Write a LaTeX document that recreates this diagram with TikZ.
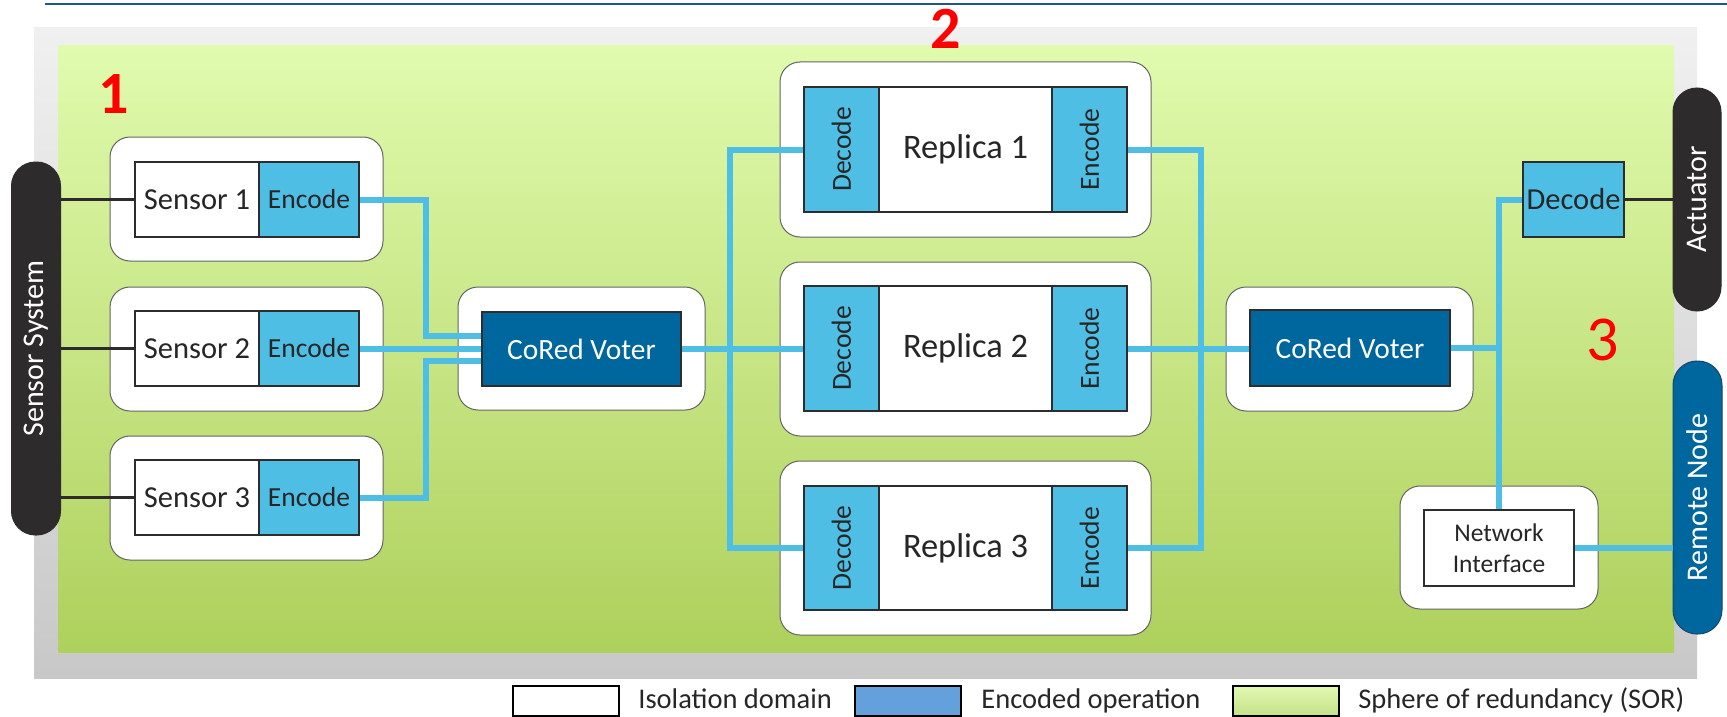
\documentclass[tikz,border=0pt]{standalone}
\usepackage{fontspec}
\setmainfont{Carlito}
\usepackage{graphicx}
\usetikzlibrary{calc}

\definecolor{ruleblue}{RGB}{31,87,140}
\definecolor{frametop}{RGB}{240,240,240}
\definecolor{framebot}{RGB}{200,200,200}
\definecolor{sortop}{RGB}{224,251,174}
\definecolor{sorbot}{RGB}{174,208,92}
\definecolor{encblue}{RGB}{78,190,228}
\definecolor{votblue}{RGB}{0,102,158}
\definecolor{remline}{RGB}{20,70,110}
\definecolor{pilldark}{RGB}{45,43,44}
\definecolor{boxline}{RGB}{45,45,45}
\definecolor{isoline}{RGB}{100,100,100}
\definecolor{txtdark}{RGB}{38,38,38}
\definecolor{legblue}{RGB}{100,160,220}
\definecolor{legtop}{RGB}{226,248,180}
\definecolor{legbot}{RGB}{196,226,134}

\tikzset{every picture/.style={line width=0.75pt}}
\tikzset{
  isobox/.style={draw=isoline, line width=1pt, fill=white, rounded corners=20pt, inner sep=0pt},
  opbox/.style={draw=boxline, line width=2.2pt, fill=white, text=txtdark, inner sep=0pt, font=\fontsize{30.5}{36}\selectfont},
  codebox/.style={opbox, fill=encblue, font=\fontsize{27.6}{32}\selectfont},
  voterbox/.style={opbox, fill=votblue, text=white, font=\fontsize{29.4}{34}\selectfont},
  pill/.style={draw=pilldark, line width=1pt, fill=pilldark, text=white, rounded corners=24pt, inner sep=0pt, rotate=90, font=\fontsize{30}{36}\selectfont},
  wire/.style={draw=encblue, line width=6pt},
  link/.style={draw=pilldark, line width=3pt},
  numlbl/.style={text=red, inner sep=0pt, font=\fontsize{60}{60}\selectfont\bfseries},
  legbox/.style={draw=black, line width=2pt, minimum width=106pt, minimum height=30pt, inner sep=0pt},
  legtxt/.style={text=txtdark, inner sep=0pt, anchor=base west, font=\fontsize{28.5}{34}\selectfont},
}

\begin{document}
\begin{tikzpicture}[x=1pt,y=1pt,yscale=-1,xscale=1]
\useasboundingbox (0,0) rectangle (1727,717);

%Straight Lines
\draw [color=ruleblue, line width=2pt] (45,4.5) -- (1727,4.5);
%Shape: Rectangle
\shade [top color=frametop, bottom color=framebot] (34,28) rectangle (1697,678);
%Shape: Rectangle
\shade [top color=sortop, bottom color=sorbot] (58.5,46) rectangle (1674,652);

% Text Node
\node [numlbl] (num1) at (114,94) {1};
% Text Node
\node [numlbl] (num2) at (946,29) {2};
% Text Node
\node [numlbl, font=\fontsize{64}{64}\selectfont] (num3) at (1603,340) {3};

%Shape: Pills
\node [pill, minimum width=373pt, minimum height=49pt] (sensys) at (36,348.5) {Sensor System};
\node [pill, minimum width=223pt, minimum height=48pt] (act) at (1697,199.5) {Actuator};
\node [pill, draw=remline, fill=votblue, minimum width=273pt, minimum height=49pt] (rem) at (1697.5,497.5) {Remote Node};

%Shape: Isolation domains
\node [isobox, minimum width=273pt, minimum height=124pt] (iso1) at (246.5,199) {};
\node [isobox, minimum width=273pt, minimum height=124pt] (iso2) at (246.5,349) {};
\node [isobox, minimum width=273pt, minimum height=124pt] (iso3) at (246.5,498) {};
\node [isobox, minimum width=247pt, minimum height=123pt] (iso4) at (581.5,348.5) {};
\node [isobox, minimum width=371pt, minimum height=175pt] (iso5) at (965.5,149.5) {};
\node [isobox, minimum width=371pt, minimum height=174pt] (iso6) at (965.5,349) {};
\node [isobox, minimum width=371pt, minimum height=174pt] (iso7) at (965.5,548) {};
\node [isobox, minimum width=247pt, minimum height=124pt] (iso8) at (1349.5,349) {};
\node [isobox, minimum width=198pt, minimum height=123pt] (iso9) at (1499,547.5) {};

%Shape: Sensors
\node [opbox, minimum width=124pt, minimum height=75pt] (sen1) at (197,199.5) {Sensor 1};
\node [codebox, minimum width=100pt, minimum height=75pt] (enc1) at (309,199.5) {Encode};
\node [opbox, minimum width=124pt, minimum height=75pt] (sen2) at (197,348.5) {Sensor 2};
\node [codebox, minimum width=100pt, minimum height=75pt] (enc2) at (309,348.5) {Encode};
\node [opbox, minimum width=124pt, minimum height=75pt] (sen3) at (197,497.5) {Sensor 3};
\node [codebox, minimum width=100pt, minimum height=75pt] (enc3) at (309,497.5) {Encode};

%Shape: Voters
\node [voterbox, minimum width=199pt, minimum height=74pt] (vot1) at (581.5,349) {CoRed Voter};
\node [voterbox, minimum width=200pt, minimum height=76pt] (vot2) at (1350,348) {CoRed Voter};

%Shape: Replicas
\node [codebox, minimum width=75pt, minimum height=125pt] (dl1) at (841.5,149.5) {\rotatebox{90}{Decode}};
\node [opbox, minimum width=173pt, minimum height=125pt, font=\fontsize{34.4}{40}\selectfont] (rep1) at (965.5,149.5) {Replica 1};
\node [codebox, minimum width=75pt, minimum height=125pt] (el1) at (1089.5,149.5) {\rotatebox{90}{Encode}};
\node [codebox, minimum width=75pt, minimum height=125pt] (dl2) at (841.5,348.5) {\rotatebox{90}{Decode}};
\node [opbox, minimum width=173pt, minimum height=125pt, font=\fontsize{34.4}{40}\selectfont] (rep2) at (965.5,348.5) {Replica 2};
\node [codebox, minimum width=75pt, minimum height=125pt] (el2) at (1089.5,348.5) {\rotatebox{90}{Encode}};
\node [codebox, minimum width=75pt, minimum height=124pt] (dl3) at (841.5,548) {\rotatebox{90}{Decode}};
\node [opbox, minimum width=173pt, minimum height=124pt, font=\fontsize{34.4}{40}\selectfont] (rep3) at (965.5,548) {Replica 3};
\node [codebox, minimum width=75pt, minimum height=124pt] (el3) at (1089.5,548) {\rotatebox{90}{Encode}};

%Shape: Output side
\node [codebox, minimum width=101pt, minimum height=75pt, font=\fontsize{30.5}{36}\selectfont] (dec4) at (1573.5,199.5) {Decode};
\node [opbox, minimum width=150pt, minimum height=76pt, align=center, font=\fontsize{25.5}{31}\selectfont] (ni) at (1499,548) {Network\\Interface};

%Straight Lines
\coordinate (busA) at (426,349);
\coordinate (busB) at (730,349);
\coordinate (busC) at (1201,349);
\draw [link] (sen1.west) -- (sen1.west -| sensys.south);
\draw [link] (sen2.west) -- (sen2.west -| sensys.south);
\draw [link] (sen3.west) -- (sen3.west -| sensys.south);
\draw [link] (dec4.east) -- (dec4.east -| act.north);
\draw [wire] (enc1.east) -- (enc1.east -| busA) |- ($(vot1.west)+(0,-13)$);
\draw [wire] (enc2.east) -- (enc2.east -| vot1.west);
\draw [wire] (enc3.east) -- (enc3.east -| busA) |- ($(vot1.west)+(0,12)$);
\draw [wire] (vot1.east) -- (vot1.east -| dl2.west);
\draw [wire] (dl1.west) -- (dl1.west -| busB) -- (dl3.west -| busB) -- (dl3.west);
\draw [wire] (el1.east) -- (el1.east -| busC) -- (el3.east -| busC) -- (el3.east);
\draw [wire] (el2.east) -- (el2.east -| vot2.west);
\draw [wire] (vot2.east) -- (vot2.east -| ni.north);
\draw [wire] (ni.north) |- (dec4.west);
\draw [wire] (ni.east) -- (ni.east -| rem.north);

% Legend
\node [legbox, fill=white] (leg1) at (566,701) {};
\node [legtxt] (legt1) at (638,708) {Isolation domain};
\node [legbox, fill=legblue] (leg2) at (907.5,701) {};
\node [legtxt] (legt2) at (981,708) {Encoded operation};
\node [legbox, top color=legtop, bottom color=legbot] (leg3) at (1286,701) {};
\node [legtxt] (legt3) at (1358,708) {Sphere of redundancy (SOR)};

\end{tikzpicture}
\end{document}
